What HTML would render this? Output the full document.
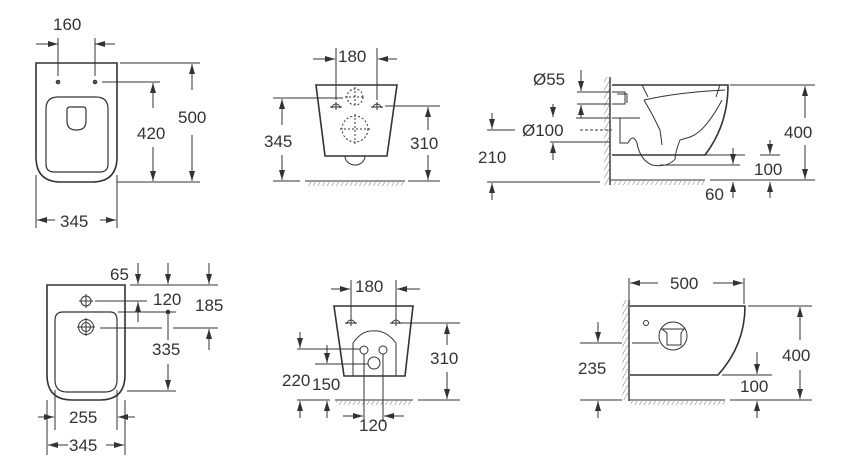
<!DOCTYPE html>
<html><head><meta charset="utf-8"><style>
html,body{margin:0;padding:0;background:#fff;}
svg{display:block;}
text{font-family:"Liberation Sans",Arial,sans-serif;font-size:17px;fill:#333;}
</style></head><body>
<svg width="850" height="461" viewBox="0 0 850 461" xmlns="http://www.w3.org/2000/svg">
<defs>
<marker id="a" viewBox="0 0 10 6" refX="10" refY="3" markerWidth="10" markerHeight="6" markerUnits="userSpaceOnUse" orient="auto"><path d="M0,0L10,3L0,6z" fill="#333"/></marker>
<pattern id="h" width="4" height="4" patternUnits="userSpaceOnUse" patternTransform="rotate(30)"><line x1="0" y1="0" x2="0" y2="4" stroke="#555" stroke-width="0.8"/></pattern>
</defs>
<g stroke="#333" fill="none" stroke-width="1">
<!-- Panel 1 -->
<path d="M36,63H117V157Q117,182 92,182H61Q36,182 36,157Z" stroke-width="1.6"/>
<path d="M46,109Q46,97 58,97H96Q108,97 108,109V164Q108,172 100,172H54Q46,172 46,164Z" stroke-width="1.2"/>
<path d="M67,110Q67,107 70,107H83Q86,107 86,110V121Q86,130 77,130H76Q67,130 67,121Z" stroke-width="1.2"/>
<circle cx="58" cy="82" r="1.8" fill="#555"/><circle cx="95" cy="82" r="1.8" fill="#555"/>
<line x1="58" y1="38" x2="58" y2="76"/><line x1="95" y1="38" x2="95" y2="76"/>
<line x1="36" y1="44" x2="58" y2="44" marker-end="url(#a)"/><line x1="115" y1="44" x2="95" y2="44" marker-end="url(#a)"/>
<line x1="120" y1="63" x2="200" y2="63"/><line x1="117" y1="182" x2="200" y2="182"/>
<line x1="192" y1="90" x2="192" y2="64" marker-end="url(#a)"/><line x1="192" y1="135" x2="192" y2="181" marker-end="url(#a)"/>
<line x1="102" y1="82" x2="160" y2="82"/>
<line x1="153" y1="108" x2="153" y2="83" marker-end="url(#a)"/><line x1="153" y1="147" x2="153" y2="181" marker-end="url(#a)"/>
<line x1="36" y1="175" x2="36" y2="228"/><line x1="117" y1="175" x2="117" y2="228"/>
<line x1="55" y1="220" x2="37" y2="220" marker-end="url(#a)"/><line x1="100" y1="220" x2="116" y2="220" marker-end="url(#a)"/>
<!-- Panel 2 -->
<path d="M316,85H397L387,156H325Z" stroke-width="1.6"/>
<path d="M345,156A10,9 0 0 0 365,156"/>
<circle cx="355" cy="97" r="8" stroke-dasharray="2,2"/><line x1="355" y1="87" x2="355" y2="107" stroke-dasharray="2,2"/><line x1="345" y1="97" x2="365" y2="97" stroke-dasharray="2,2"/>
<circle cx="355" cy="129" r="13" stroke-dasharray="2,2"/><line x1="355" y1="114" x2="355" y2="144" stroke-dasharray="2,2"/><line x1="340" y1="129" x2="370" y2="129" stroke-dasharray="2,2"/>
<path d="M332,108A4,4 0 0 1 340,108M330,107H342M336,102V110"/><path d="M373,108A4,4 0 0 1 381,108M371,107H383M377,102V110"/>
<line x1="336" y1="48" x2="336" y2="100"/><line x1="377" y1="48" x2="377" y2="100"/>
<line x1="313" y1="59" x2="335" y2="59" marker-end="url(#a)"/><line x1="397" y1="59" x2="378" y2="59" marker-end="url(#a)"/>
<line x1="273" y1="98" x2="343" y2="98"/><line x1="273" y1="181" x2="300" y2="181"/>
<line x1="282" y1="125" x2="282" y2="99" marker-end="url(#a)"/><line x1="282" y1="155" x2="282" y2="180" marker-end="url(#a)"/>
<line x1="385" y1="106" x2="440" y2="106"/><line x1="408" y1="181" x2="440" y2="181"/>
<line x1="428" y1="130" x2="428" y2="107" marker-end="url(#a)"/><line x1="428" y1="155" x2="428" y2="180" marker-end="url(#a)"/>
<line x1="305" y1="181" x2="405" y2="181"/>
<rect x="308" y="182" width="96" height="4" fill="url(#h)" stroke="none"/>
<!-- Panel 3 -->
<rect x="604" y="77" width="6" height="108" fill="url(#h)" stroke="none"/>
<line x1="610" y1="77" x2="610" y2="185" stroke-width="1.4"/>
<line x1="610" y1="180" x2="705" y2="180"/>
<rect x="612" y="181" width="93" height="4" fill="url(#h)" stroke="none"/>
<path d="M612,85H728Q728,125 705,155H612" stroke-width="1.6"/>
<path d="M612,92H625V104H612M617,94H627V103"/>
<path d="M642,85L648,97M720,85L716,97"/>
<path d="M644,100Q680,92 725,90"/>
<path d="M644,100L652,114L660,130L662,145"/>
<path d="M722,100Q705,132 690,137L680,140Q676,150 675,158"/>
<path d="M612,118H640M620,118V143H628Q633,133 637,143Q640,160 652,165Q668,168 676,158"/>
<path d="M660,165H740"/>
<line x1="705" y1="155" x2="745" y2="155"/><line x1="760" y1="155" x2="780" y2="155"/>
<line x1="730" y1="85" x2="815" y2="85"/><line x1="710" y1="180" x2="815" y2="180"/>
<line x1="805" y1="118" x2="805" y2="86" marker-end="url(#a)"/><line x1="805" y1="145" x2="805" y2="179" marker-end="url(#a)"/>
<line x1="770" y1="140" x2="770" y2="154" marker-end="url(#a)"/>
<line x1="733" y1="148" x2="733" y2="164" marker-end="url(#a)"/>
<line x1="733" y1="198" x2="733" y2="182" marker-end="url(#a)"/><line x1="770" y1="198" x2="770" y2="182" marker-end="url(#a)"/>
<line x1="577" y1="92" x2="610" y2="92"/><line x1="577" y1="104" x2="610" y2="104"/>
<line x1="581" y1="70" x2="581" y2="91" marker-end="url(#a)"/><line x1="581" y1="118" x2="581" y2="105" marker-end="url(#a)"/>
<line x1="576" y1="118" x2="610" y2="118"/><line x1="550" y1="142" x2="610" y2="142"/>
<line x1="553" y1="104" x2="553" y2="117" marker-end="url(#a)"/><line x1="553" y1="160" x2="553" y2="143" marker-end="url(#a)"/>
<line x1="487" y1="130" x2="515" y2="130"/><line x1="580" y1="130" x2="612" y2="130" stroke-dasharray="3,2"/>
<line x1="492" y1="113" x2="492" y2="129" marker-end="url(#a)"/>
<line x1="487" y1="182" x2="600" y2="182"/><line x1="492" y1="200" x2="492" y2="183" marker-end="url(#a)"/>
<!-- Panel 4 -->
<path d="M47,285H125V375Q125,400 100,400H72Q47,400 47,375Z" stroke-width="1.6"/>
<path d="M55,320Q55,312 63,312H110Q117,312 117,320V380Q117,392 105,392H67Q55,392 55,380Z" stroke-width="1.2"/>
<circle cx="86" cy="301" r="5"/><line x1="79" y1="301" x2="93" y2="301"/><line x1="86" y1="294" x2="86" y2="308"/>
<circle cx="86" cy="327" r="7.5"/><circle cx="86" cy="327" r="4.5"/><line x1="77" y1="327" x2="95" y2="327"/><line x1="86" y1="318" x2="86" y2="336"/>
<line x1="130" y1="285" x2="218" y2="285"/>
<line x1="138" y1="263" x2="138" y2="284" marker-end="url(#a)"/><line x1="168" y1="263" x2="168" y2="284" marker-end="url(#a)"/><line x1="209" y1="263" x2="209" y2="284" marker-end="url(#a)"/>
<line x1="95" y1="301" x2="147" y2="301"/><line x1="138" y1="322" x2="138" y2="302" marker-end="url(#a)"/>
<line x1="118" y1="312" x2="176" y2="312"/><circle cx="168" cy="312" r="1.8" fill="#333"/>
<line x1="100" y1="328" x2="162" y2="328"/><line x1="173" y1="328" x2="218" y2="328"/>
<line x1="209" y1="350" x2="209" y2="329" marker-end="url(#a)"/>
<line x1="168" y1="312" x2="168" y2="340"/><line x1="168" y1="364" x2="168" y2="390" marker-end="url(#a)"/>
<line x1="127" y1="391" x2="176" y2="391"/>
<line x1="55" y1="390" x2="55" y2="430"/><line x1="117" y1="390" x2="117" y2="430"/>
<line x1="38" y1="417" x2="54" y2="417" marker-end="url(#a)"/><line x1="135" y1="417" x2="118" y2="417" marker-end="url(#a)"/>
<line x1="47" y1="400" x2="47" y2="455"/><line x1="125" y1="400" x2="125" y2="455"/>
<line x1="68" y1="445" x2="48" y2="445" marker-end="url(#a)"/><line x1="106" y1="445" x2="124" y2="445" marker-end="url(#a)"/>
<!-- Panel 5 -->
<path d="M334,306H413L405,376H344Z" stroke-width="1.6"/>
<path d="M353,376V343Q362,330 374,331Q386,330 396,343V376"/>
<circle cx="364" cy="350" r="4"/><circle cx="383" cy="350" r="4"/><circle cx="374" cy="363" r="6"/>
<path d="M347,324A4,4 0 0 1 355,324M345,323H357M351,318V326"/><path d="M392,324A4,4 0 0 1 400,324M390,323H402M396,318V326"/>
<line x1="351" y1="280" x2="351" y2="320"/><line x1="396" y1="280" x2="396" y2="320"/>
<line x1="331" y1="289" x2="350" y2="289" marker-end="url(#a)"/><line x1="420" y1="289" x2="397" y2="289" marker-end="url(#a)"/>
<line x1="400" y1="323" x2="460" y2="323"/><line x1="418" y1="400" x2="460" y2="400"/>
<line x1="447" y1="345" x2="447" y2="324" marker-end="url(#a)"/><line x1="447" y1="372" x2="447" y2="399" marker-end="url(#a)"/>
<line x1="297" y1="349" x2="360" y2="349"/><line x1="300" y1="332" x2="300" y2="348" marker-end="url(#a)"/>
<line x1="315" y1="364" x2="368" y2="364"/><line x1="327" y1="345" x2="327" y2="363" marker-end="url(#a)"/>
<line x1="297" y1="400" x2="330" y2="400"/>
<line x1="300" y1="418" x2="300" y2="401" marker-end="url(#a)"/><line x1="327" y1="418" x2="327" y2="401" marker-end="url(#a)"/>
<line x1="335" y1="400" x2="413" y2="400"/>
<rect x="336" y="401" width="76" height="4" fill="url(#h)" stroke="none"/>
<line x1="364" y1="354" x2="364" y2="422"/><line x1="383" y1="354" x2="383" y2="422"/>
<line x1="343" y1="416" x2="363" y2="416" marker-end="url(#a)"/><line x1="404" y1="416" x2="384" y2="416" marker-end="url(#a)"/>
<!-- Panel 6 -->
<rect x="622" y="300" width="6" height="100" fill="url(#h)" stroke="none"/>
<line x1="629" y1="300" x2="629" y2="401" stroke-width="1.4"/>
<line x1="629" y1="400" x2="725" y2="400"/>
<rect x="631" y="401" width="94" height="4" fill="url(#h)" stroke="none"/>
<path d="M630,306H745Q745,345 718,375H630" stroke-width="1.6"/>
<circle cx="646" cy="323" r="2.5"/>
<circle cx="673" cy="336" r="14"/>
<path d="M662,329H684L681,333V345H667V333Z"/>
<line x1="629" y1="278" x2="629" y2="300"/><line x1="744" y1="278" x2="744" y2="304"/>
<line x1="658" y1="283" x2="630" y2="283" marker-end="url(#a)"/><line x1="713" y1="283" x2="743" y2="283" marker-end="url(#a)"/>
<line x1="748" y1="306" x2="812" y2="306"/><line x1="730" y1="400" x2="812" y2="400"/>
<line x1="800" y1="340" x2="800" y2="307" marker-end="url(#a)"/><line x1="800" y1="370" x2="800" y2="399" marker-end="url(#a)"/>
<line x1="580" y1="343" x2="622" y2="343"/><line x1="632" y1="343" x2="659" y2="343"/>
<line x1="598" y1="322" x2="598" y2="342" marker-end="url(#a)"/>
<line x1="580" y1="400" x2="622" y2="400"/><line x1="598" y1="418" x2="598" y2="401" marker-end="url(#a)"/>
<line x1="722" y1="375" x2="772" y2="375"/>
<line x1="757" y1="352" x2="757" y2="374" marker-end="url(#a)"/><line x1="757" y1="418" x2="757" y2="401" marker-end="url(#a)"/>
</g>
<text x="53" y="30">160</text>
<text x="178" y="123">500</text>
<text x="137" y="139">420</text>
<text x="60" y="227">345</text>
<text x="338" y="62">180</text>
<text x="264" y="147">345</text>
<text x="410" y="149">310</text>
<text x="533" y="85">Ø55</text>
<text x="522" y="136">Ø100</text>
<text x="478" y="163">210</text>
<text x="784" y="138">400</text>
<text x="754" y="175">100</text>
<text x="705" y="200">60</text>
<text x="110" y="280">65</text>
<text x="153" y="305">120</text>
<text x="195" y="311">185</text>
<text x="152" y="355">335</text>
<text x="69" y="423">255</text>
<text x="69" y="451">345</text>
<text x="355" y="292">180</text>
<text x="430" y="364">310</text>
<text x="282" y="386">220</text>
<text x="312" y="390">150</text>
<text x="359" y="431">120</text>
<text x="670" y="289">500</text>
<text x="782" y="361">400</text>
<text x="578" y="374">235</text>
<text x="740" y="392">100</text>
</svg>
</body></html>
